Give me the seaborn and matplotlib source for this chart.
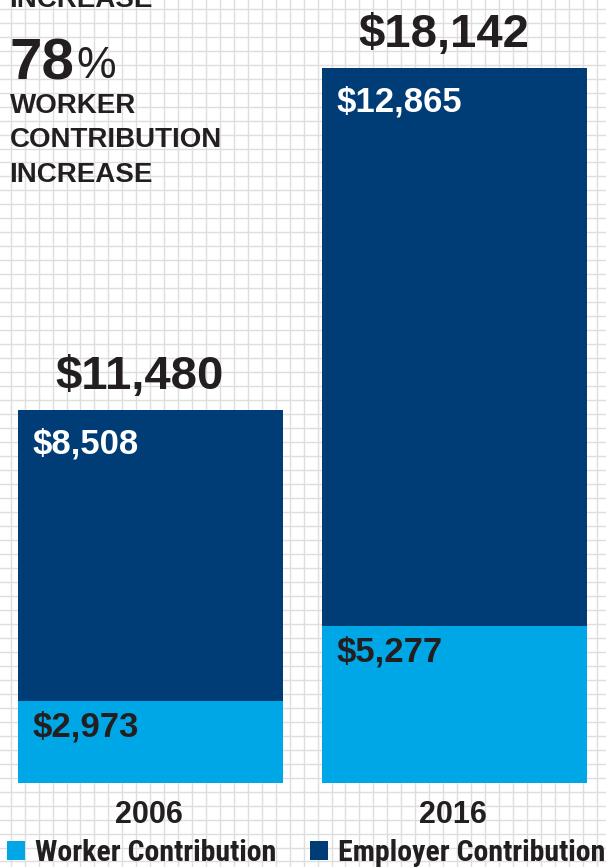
import numpy as np
import pandas as pd
import matplotlib
matplotlib.use("Agg")
import matplotlib.pyplot as plt
import seaborn as sns
from matplotlib.patches import Patch
from matplotlib.font_manager import FontProperties

# ---------------- data ----------------
years = ["2006", "2016"]
worker_values = [2973, 5277]
employer_values = [8508, 12865]
total_values = [11480, 18142]
# bar heights as drawn in the original artwork (the graphic is not to scale)
worker_drawn = [82.0, 157.0]
employer_drawn = [290.7, 557.7]
headline_number = "78"
headline_lines = ["WORKER", "CONTRIBUTION", "INCREASE"]
cut_heading = "INCREASE"
legend_labels = ["Worker Contribution", "Employer Contribution"]

df = pd.DataFrame({"year": years, "worker": worker_drawn, "employer": employer_drawn})
df["total"] = df["worker"] + df["employer"]

# ---------------- style ----------------
sns.set_style("white")
BOLD = ["Liberation Sans", "DejaVu Sans"]
NARROW = ["Roboto Condensed", "Liberation Sans Narrow", "Liberation Sans"]
plt.rcParams["font.family"] = BOLD
BLUE = "#00A7E6"
NAVY = "#003C76"
DARK = "#231F20"
GRID = "#dedede"

W, H = 606, 867
fig = plt.figure(figsize=(W / 100, H / 100), dpi=100)
fig.patch.set_facecolor("white")

# graph-paper background in pixel coordinates
bg = fig.add_axes([0, 0, 1, 1])
bg.set_xlim(0, W)
bg.set_ylim(H, 0)
bg.axis("off")
for gx in np.arange(10.7, W, 13.95):
    bg.axvline(gx, color=GRID, lw=1.0, zorder=0)
for gy in np.arange(8.7, H, 13.98):
    bg.axhline(gy, color=GRID, lw=1.0, zorder=0)

# left headline block
bg.text(9.5, 7, cut_heading, fontsize=20, weight="bold", color=DARK, va="baseline", ha="left")
bg.text(10.0, 79, headline_number, fontsize=42, weight="bold", color=DARK, va="baseline", ha="left")
bg.text(76, 78, "%", fontsize=32, weight="normal", color=DARK, va="baseline", ha="left")
for line, yb in zip(headline_lines, [113, 147, 181.5]):
    bg.text(9.5, yb, line, fontsize=20, weight="bold", color=DARK, va="baseline", ha="left")

# bars
ax = fig.add_axes([0, 0, 1, 1])
ax.patch.set_alpha(0)
BW = 0.8717
sns.barplot(data=df, x="year", y="total", color=NAVY, saturation=1, width=BW,
            linewidth=0, ax=ax)
sns.barplot(data=df, x="year", y="worker", color=BLUE, saturation=1, width=BW,
            linewidth=0, ax=ax)
ax.set_xlim(-0.49507, 1.49836)
ax.set_ylim(-84.3, 782.7)
ax.axis("off")

PX = 1 / 304.0
for i, yr in enumerate(years):
    tot_h = df["total"][i]
    wk_h = df["worker"][i]
    left = i - BW / 2
    ax.text(i - 11 * PX, tot_h + 21, f"${total_values[i]:,}", ha="center", va="baseline",
            fontsize=34, weight="bold", color=DARK)
    ax.text(left + 15 * PX, tot_h - 43.5, f"${employer_values[i]:,}", ha="left", va="baseline",
            fontsize=25, weight="bold", color="white")
    ax.text(left + 15 * PX, wk_h - 36, f"${worker_values[i]:,}", ha="left", va="baseline",
            fontsize=25, weight="bold", color=DARK)
    ax.text(i - 2 * PX, -40.3, yr, ha="center", va="baseline", fontsize=22, weight="bold", color=DARK)

handles = [Patch(facecolor=BLUE, edgecolor="none", label=legend_labels[0]),
           Patch(facecolor=NAVY, edgecolor="none", label=legend_labels[1])]
leg = ax.legend(handles=handles, loc="lower left", bbox_to_anchor=(7 / W, 0.0),
                bbox_transform=fig.transFigure, ncol=2, frameon=False,
                prop=FontProperties(family=NARROW, weight="bold", size=21.5),
                handlelength=0.6, handleheight=0.57, handletextpad=0.33,
                columnspacing=1.15, borderpad=0, borderaxespad=0)
for t in leg.get_texts():
    t.set_color(DARK)

fig.savefig("out.png", dpi=100)
